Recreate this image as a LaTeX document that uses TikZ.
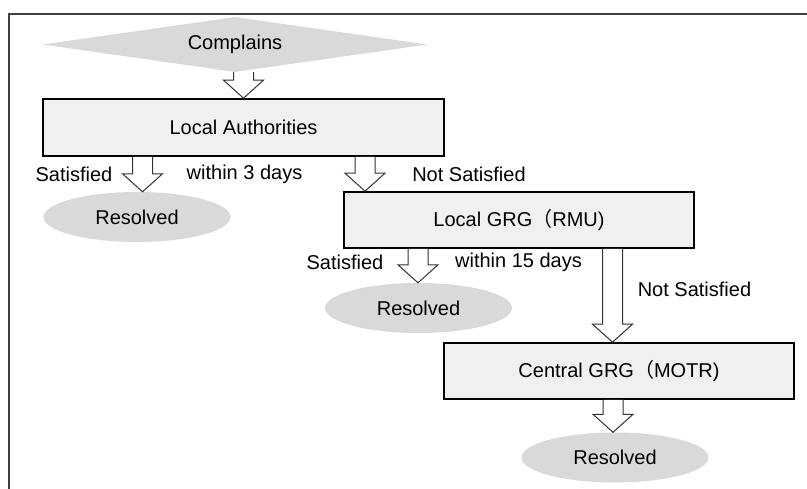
\documentclass[tikz,border=0pt]{standalone}
\usepackage{fontspec}
\setmainfont{Liberation Sans}
\newfontfamily\cjk{Noto Sans CJK SC}
\usetikzlibrary{shapes.geometric,calc}
\definecolor{boxfill}{HTML}{F0F0F0}
\definecolor{shapegray}{HTML}{D9D9D9}
\definecolor{framegray}{HTML}{404040}
\tikzset{
  stepbox/.style={draw=black, line width=1.6pt, fill=boxfill, inner sep=0pt},
  endell/.style={ellipse, fill=shapegray, inner sep=0pt, minimum width=187pt, minimum height=50pt},
  lbl/.style={inner sep=0pt, anchor=center},
  barrow/.style={draw=black!80, line width=1pt, fill=white, line join=miter},
}
\newcommand\blockarr[2]{%
  \filldraw[barrow] let \p1=#1, \p2=#2 in
    (\x1-10pt,\y1) -- (\x1-10pt,\y2+18pt) -- (\x1-20pt,\y2+18pt) -- (\x1,\y2)
    -- (\x1+20pt,\y2+18pt) -- (\x1+10pt,\y2+18pt) -- (\x1+10pt,\y1);}
\begin{document}
\begin{tikzpicture}[x=1pt,y=-1pt,font=\fontsize{20}{24}\selectfont]
\useasboundingbox (0,0) rectangle (807,489);
% frame
\draw[framegray, line width=1.5pt] (9,489) -- (9,14) -- (807,14);
% nodes
\node[diamond, fill=shapegray, inner sep=0pt, aspect=7, minimum width=385pt, minimum height=55pt] (comp) at (235,44.5) {Complains};
\node[stepbox, minimum width=401pt, minimum height=57pt] (la) at (243.5,127.5) {Local Authorities};
\node[endell] (res1) at (137,217) {Resolved};
\node[stepbox, minimum width=350pt, minimum height=56pt] (grg) at (519,220) {Local GRG{\cjk （}RMU)};
\node[endell] (res2) at (418.5,308) {Resolved};
\node[stepbox, minimum width=350pt, minimum height=56pt] (cgrg) at (619,371) {Central GRG{\cjk （}MOTR)};
\node[endell] (res3) at (615,457.5) {Resolved};
% labels
\node[lbl] (l1) at (74,174) {Satisfied};
\node[lbl] (l2) at (244.5,174) {within 3 days};
\node[lbl] (l3) at (469,174) {Not Satisfied};
\node[lbl] (l4) at (345,262) {Satisfied};
\node[lbl] (l5) at (518.5,262) {within 15 days};
\node[lbl] (l6) at (694.5,289) {Not Satisfied};
% arrow x positions
\coordinate (a0) at (243.5,0);
\coordinate (a1) at (142.5,0);
\coordinate (a2) at (365,0);
\coordinate (a3) at (418,0);
\coordinate (a4) at (612.5,0);
\coordinate (a5) at (613,0);
% block arrows
\blockarr{(comp.south -| a0)}{(la.north -| a0)}
\blockarr{(la.south -| a1)}{(res1.north -| a1)}
\blockarr{(la.south -| a2)}{(grg.north -| a2)}
\blockarr{(grg.south -| a3)}{(res2.north -| a3)}
\blockarr{(grg.south -| a4)}{(cgrg.north -| a4)}
\blockarr{(cgrg.south -| a5)}{(res3.north -| a5)}
\end{tikzpicture}
\end{document}
